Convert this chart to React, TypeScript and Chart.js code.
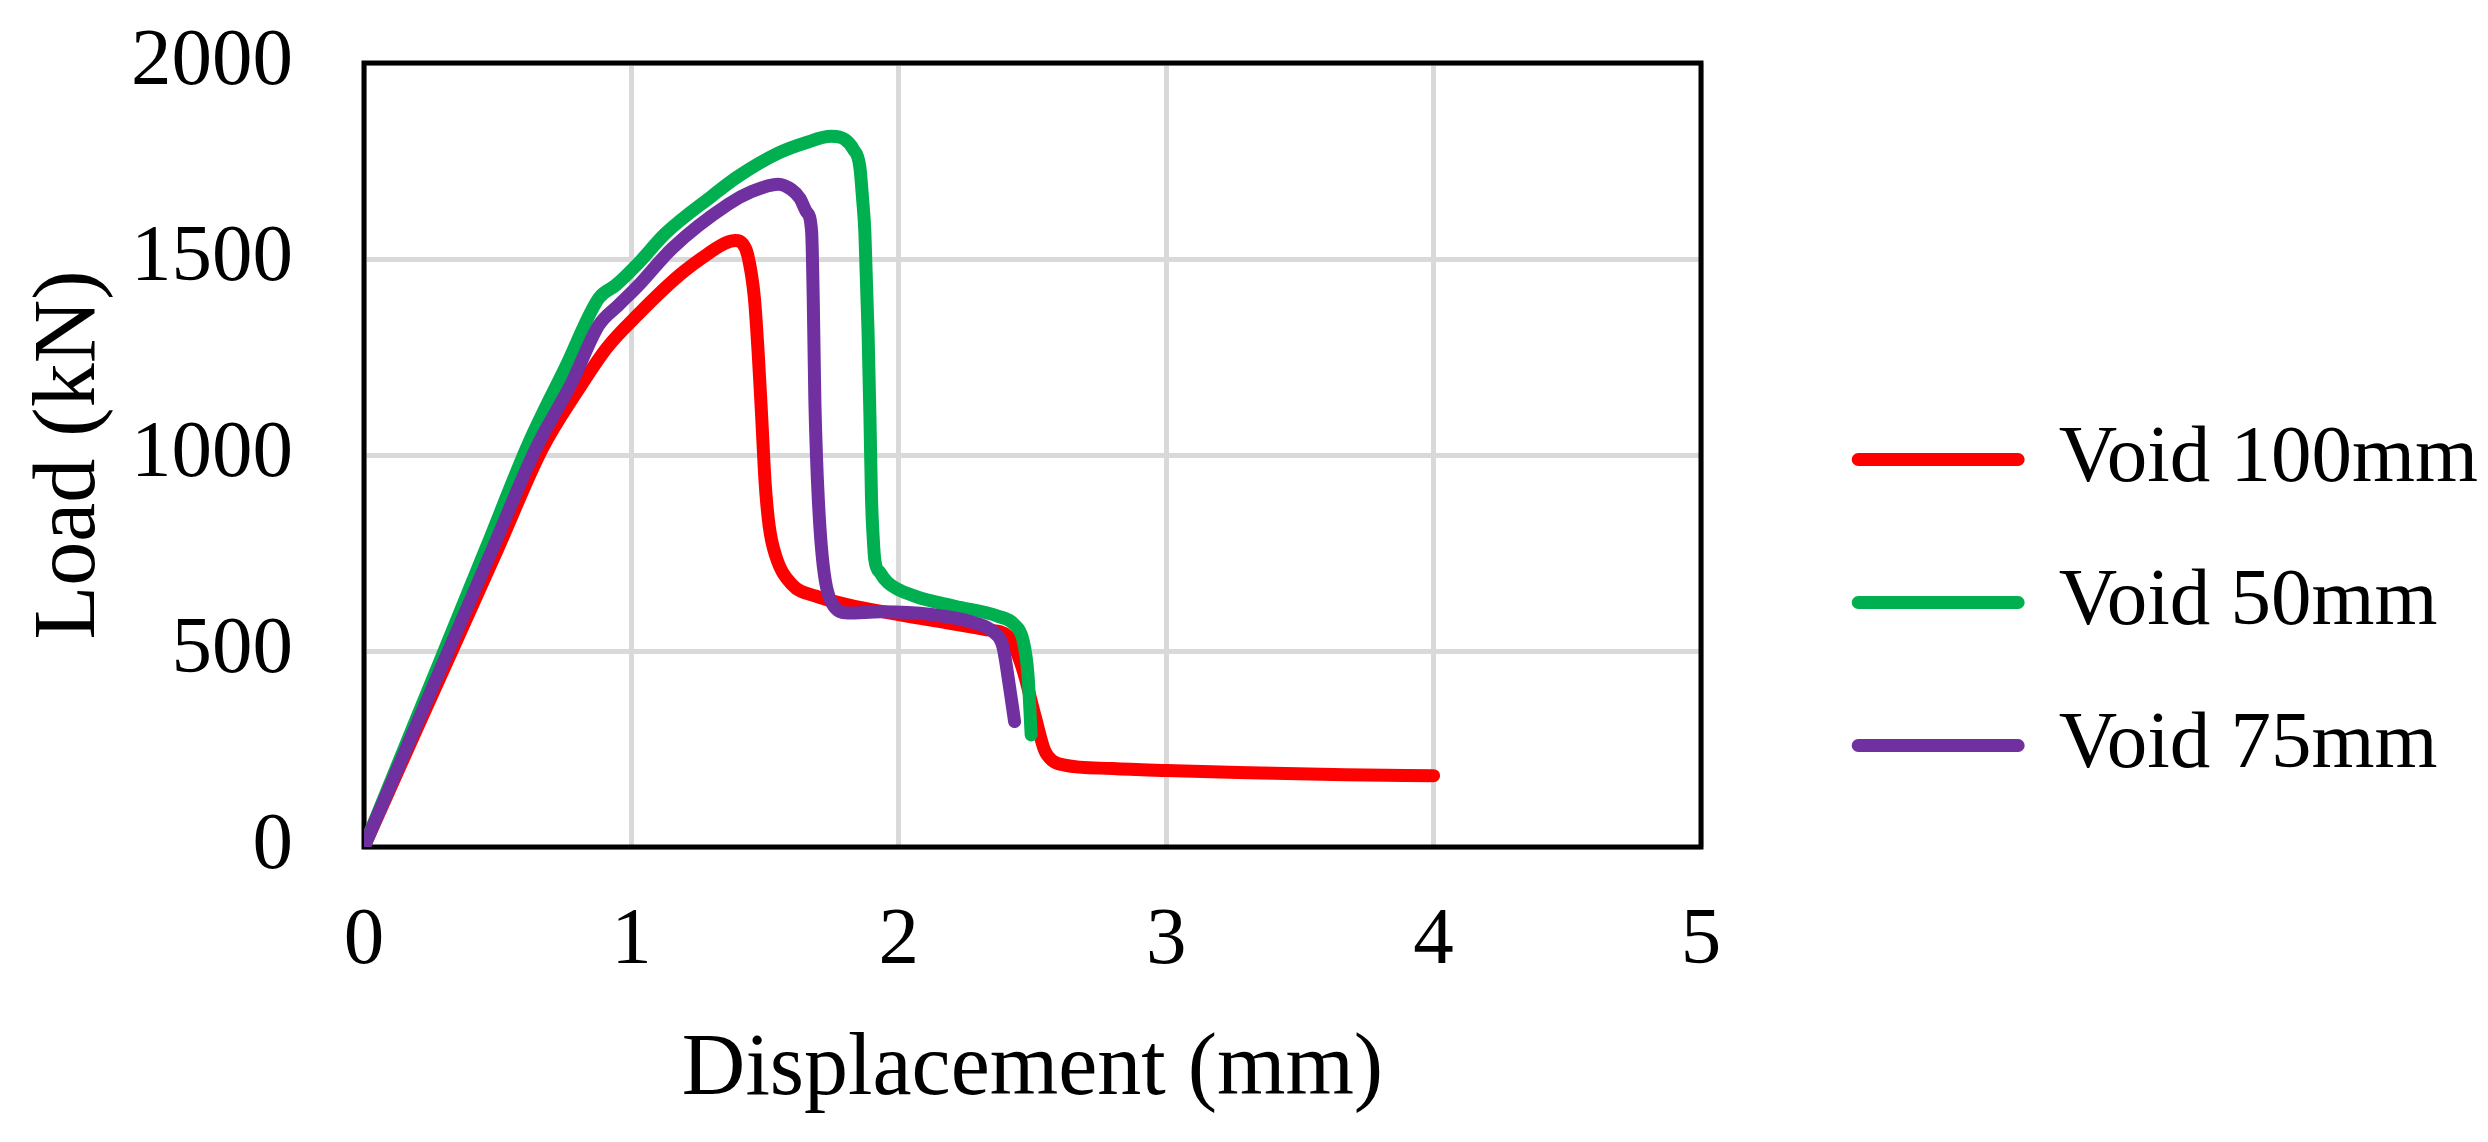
import React, { useEffect, useRef } from 'react';
import { Chart, registerables } from 'chart.js';

Chart.register(...registerables);

// Load-displacement curves
const void100X = [0, 0.2, 0.5, 0.666, 0.8, 0.91, 1.027, 1.18, 1.29, 1.35, 1.39, 1.415, 1.435, 1.46, 1.475, 1.487, 1.5, 1.515, 1.54, 1.6, 1.69, 1.81, 2.0, 2.18, 2.33, 2.41, 2.46, 2.51, 2.545, 2.575, 2.62, 2.8, 3.0, 3.27, 3.67, 4.0];
const void100Y = [0, 305, 760, 1015, 1165, 1275, 1360, 1459, 1515, 1540, 1547, 1540, 1510, 1400, 1250, 1100, 930, 820, 742, 670, 640, 618, 593, 572, 554, 537, 461, 333, 247, 220, 209, 200, 195, 190, 184, 182];

const void50X = [0, 0.2, 0.455, 0.617, 0.754, 0.878, 0.941, 1.027, 1.127, 1.3, 1.4, 1.549, 1.649, 1.748, 1.798, 1.83, 1.854, 1.865, 1.873, 1.885, 1.892, 1.898, 1.905, 1.91, 1.93, 1.96, 2.06, 2.21, 2.37, 2.433, 2.464, 2.483, 2.495];
const void50Y = [0, 334, 760, 1032, 1225, 1400, 1433, 1490, 1565, 1660, 1711, 1770, 1796, 1813, 1805, 1780, 1736, 1650, 1570, 1314, 1100, 887, 780, 734, 700, 674, 640, 614, 589, 567, 529, 440, 286];

const void75X = [0, 0.2, 0.48, 0.642, 0.778, 0.878, 0.953, 1.027, 1.152, 1.363, 1.45, 1.549, 1.599, 1.63, 1.655, 1.674, 1.68, 1.686, 1.692, 1.699, 1.71, 1.725, 1.749, 1.81, 1.935, 2.122, 2.283, 2.358, 2.389, 2.414, 2.433];
const void75Y = [0, 318, 759, 1015, 1186, 1331, 1383, 1433, 1527, 1640, 1672, 1691, 1677, 1655, 1620, 1570, 1400, 1143, 1000, 887, 770, 680, 623, 597, 600, 593, 572, 546, 512, 409, 320];

const seriesNames = ['Void 100mm', 'Void 50mm', 'Void 75mm'];
const seriesColors = ['#ff0000', '#00b050', '#7030a0'];
const drawOrder = [2, 1, 0]; // purple on top, red underneath

const xMin = 0, xMax = 5, xStep = 1;
const yMin = 0, yMax = 2000, yStep = 500;

const FONT = '"Liberation Serif", "Times New Roman", serif';

const toPoints = (xs: number[], ys: number[]) => xs.map((x, i) => ({ x, y: ys[i] }));

// black box round the plot area, under the curves
const framePlugin = {
    id: 'frame',
    beforeDatasetsDraw(chart: Chart) {
        const { ctx, chartArea } = chart;
        ctx.save();
        ctx.strokeStyle = '#000';
        ctx.lineWidth = 5;
        ctx.strokeRect(chartArea.left, chartArea.top, chartArea.right - chartArea.left, chartArea.bottom - chartArea.top);
        ctx.restore();
    },
};

const App: React.FC = () => {
    const canvasRef = useRef<HTMLCanvasElement | null>(null);

    useEffect(() => {
        document.body.style.margin = '0';
        if (!canvasRef.current) return;

        const allSeries = [toPoints(void100X, void100Y), toPoints(void50X, void50Y), toPoints(void75X, void75Y)];

        const chart = new Chart(canvasRef.current, {
            type: 'line',
            data: {
                datasets: allSeries.map((pts, i) => ({
                    label: seriesNames[i],
                    data: pts,
                    borderColor: seriesColors[i],
                    backgroundColor: seriesColors[i],
                    borderWidth: 13,
                    pointRadius: 0,
                    cubicInterpolationMode: 'monotone' as const,
                    borderCapStyle: 'round' as const,
                    borderJoinStyle: 'round' as const,
                    order: drawOrder[i],
                })),
            },
            plugins: [framePlugin],
            options: {
                responsive: false,
                devicePixelRatio: 1,
                animation: false,
                layout: { padding: { top: 63, left: 0, right: 0, bottom: 0 } },
                plugins: {
                    tooltip: { enabled: false },
                    legend: {
                        position: 'right',
                        align: 'center',
                        maxWidth: 800,
                        labels: {
                            boxWidth: 160,
                            boxHeight: 0,
                            padding: 62,
                            color: '#000',
                            font: { family: FONT, size: 81 },
                            sort: (a, b) => (a.datasetIndex ?? 0) - (b.datasetIndex ?? 0),
                        },
                    },
                },
                scales: {
                    x: {
                        type: 'linear',
                        min: xMin,
                        max: xMax,
                        afterFit: (s) => { s.height = 295; },
                        ticks: { stepSize: xStep, padding: 0, color: '#000', font: { family: FONT, size: 81 } },
                        grid: { color: '#d9d9d9', lineWidth: 5, drawTicks: true, tickLength: 46, tickColor: 'rgba(0,0,0,0)' },
                        border: { display: false },
                        title: {
                            display: true,
                            text: 'Displacement (mm)',
                            color: '#000',
                            font: { family: FONT, size: 88 },
                            padding: { top: 0, bottom: 18 },
                        },
                    },
                    y: {
                        type: 'linear',
                        min: yMin,
                        max: yMax,
                        afterFit: (s) => { s.width = 364; },
                        ticks: {
                            stepSize: yStep,
                            padding: 0,
                            color: '#000',
                            font: { family: FONT, size: 81 },
                            callback: (v) => String(v),
                        },
                        grid: { color: '#d9d9d9', lineWidth: 5, drawTicks: true, tickLength: 71, tickColor: 'rgba(0,0,0,0)' },
                        border: { display: false },
                        title: {
                            display: true,
                            text: 'Load (kN)',
                            color: '#000',
                            font: { family: FONT, size: 88 },
                            padding: { top: 18, bottom: 0 },
                        },
                    },
                    // empty spacer between the plot and the legend
                    gap: {
                        type: 'linear',
                        position: 'right',
                        display: true,
                        afterFit: (s) => {
                            const legendW = s.chart.legend ? s.chart.legend.width : 0;
                            s.width = Math.max(0, 787 - legendW);
                        },
                        ticks: { display: false },
                        grid: { display: false },
                        border: { display: false },
                    },
                },
            },
        });

        return () => {
            chart.destroy();
        };
    }, []);

    return (
        <div style={{ width: 2488, height: 1142, background: '#fff' }}>
            <canvas ref={canvasRef} width={2488} height={1142} style={{ display: 'block' }} />
        </div>
    );
};

export default App;
